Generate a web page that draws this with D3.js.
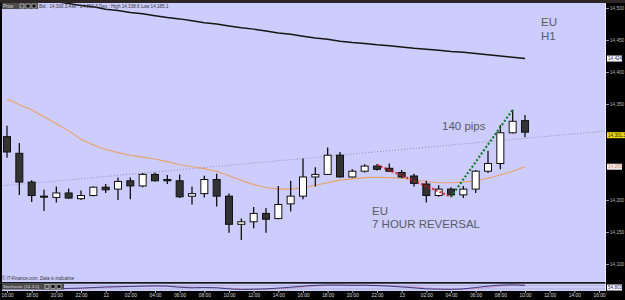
<!DOCTYPE html>
<html>
<head>
<meta charset="utf-8">
<script src="https://cdn.jsdelivr.net/npm/d3@7"></script>
<style>
body { margin: 0; background: #000; }
svg { display: block; font-family: "Liberation Sans", Arial, sans-serif; }
</style>
</head>
<body>
<script>
// EU H1 candles, 16:00 day 11 .. 10:00 day 13
var hours = d3.range(43);
var open  = [14299,14273,14228,14206,14204,14211,14202,14207,14220,14217,14230,14222,14240,14232,14230,14206,14210,14232,14206,14162,14166,14179,14171,14194,14206,14236,14240,14270,14236,14245,14253,14249.5,14243,14237.5,14225,14207,14217,14208,14217,14245,14257,14305,14324];
var high  = [14316,14289,14231,14216,14221,14218,14215,14221,14225,14235,14235,14242,14243,14239,14240,14221,14238,14241,14210,14171,14189,14187.5,14222,14230,14265,14251,14282,14275,14248,14256,14256,14257,14247,14241,14230,14223,14220,14222,14247,14277,14317,14341,14333];
var low   = [14266,14208,14197,14183,14196,14202,14200,14206,14211,14200,14201,14220,14229,14225,14203,14193,14204,14190,14149,14137.5,14156,14149,14170,14182,14201,14221,14239,14235,14235,14243,14246,14244,14234,14221,14196,14205,14205,14203,14211,14242,14248,14304,14298];
var close = [14275,14228,14207,14205,14211,14203,14207,14220,14216,14229,14222,14240,14230,14230,14205,14210,14232,14206,14162,14166,14179,14170,14193,14206,14236,14240,14270,14236,14245,14253,14248,14245,14236,14226,14207,14217,14208,14217,14245,14257,14305,14323,14306];

// moving averages
var maFast = [14358,14349,14341,14330,14319,14308,14295,14286,14279,14274,14270,14267,14264,14260,14255,14252,14249,14245,14238,14230.5,14224,14219.5,14217,14217,14219,14223,14227,14231,14233,14235,14235.5,14235,14234,14232,14229,14227,14227,14228,14230,14234,14239,14245,14252];
var maSlow = [14520,14518,14515,14512.5,14510,14507,14504,14502,14498,14496,14493,14491,14488,14485,14483,14480,14477,14475,14472,14469,14467,14464,14461,14459,14456,14453,14451,14448,14446,14444.5,14442.5,14441,14439,14437,14435.5,14434,14432,14431,14429,14427,14425,14423,14421];

// stochastic (14-3-5)
var stochK = [60,40,25,20,25,30,35,45,55,60,65,70,75,70,50,40,45,40,20,10,15,20,35,50,70,85,92,90,85,88,80,70,55,40,20,15,12,20,45,70,90,95,85];
var stochD = [55,50,40,28,23,25,30,37,45,53,60,65,70,72,65,53,45,42,35,23,15,15,23,35,52,68,82,89,89,88,84,79,68,55,38,25,16,16,26,45,68,85,90];

// drawn lines
var trendLine = [[-1, 14221], [49, 14308.6]];
var redLeg    = [[30, 14255], [36, 14205]];
var greenLeg  = [[36, 14205], [41, 14341]];

// axis ticks (14,250 and 14,300 sit under the price boxes)
var priceTicks = [14100,14150,14200,14350,14400,14450,14500];
var tickHours  = d3.range(0, 49, 2);
var tickLabels = ["16:00","18:00","20:00","22:00","12","02:00","04:00","06:00","08:00","10:00","12:00","14:00",
                  "16:00","18:00","20:00","22:00","13","02:00","04:00","06:00","08:00","10:00","12:00","14:00","16:00"];

var width = 625,
    height = 300;

var svg = d3.select("body").append("svg")
    .attr("width", width)
    .attr("height", height);

var x = d3.scaleLinear().domain([0, 48]).range([7, 599]);
var y = d3.scaleLinear().domain([14100, 14500]).range([264, 8]);
var yS = d3.scaleLinear().domain([0, 100]).range([290, 284.5]);

/* frame */
svg.append("rect").attr("width", width).attr("height", height).attr("fill", "#000");
svg.append("rect").attr("width", width).attr("height", 3).attr("fill", "#2e2624");
svg.append("rect").attr("x", 2).attr("y", 3).attr("width", 603).attr("height", 279).attr("fill", "#ccccfd");
svg.append("line").attr("x1", 605.5).attr("x2", 605.5).attr("y1", 3).attr("y2", 291)
    .attr("stroke", "#eeeeff").attr("stroke-width", 1);

svg.append("clipPath").attr("id", "plot")
  .append("rect").attr("x", 2).attr("y", 3).attr("width", 603).attr("height", 279);

var plot = svg.append("g").attr("clip-path", "url(#plot)");

// grey dotted trend line
plot.append("path")
    .attr("d", d3.line().x(function(d){ return x(d[0]) }).y(function(d){ return y(d[1]) })(trendLine))
    .attr("fill", "none").attr("stroke", "#8a8aa0").attr("stroke-width", 0.9)
    .attr("stroke-dasharray", "1,2");

// moving averages
var maLine = d3.line().x(function(d, i){ return x(i) }).y(function(d){ return y(d) });
plot.append("path").attr("d", maLine(maSlow))
    .attr("fill", "none").attr("stroke", "#161616").attr("stroke-width", 1.5);
plot.append("path").attr("d", maLine(maFast))
    .attr("fill", "none").attr("stroke", "#eba268").attr("stroke-width", 1.1);

/* candles */
var candle = plot.selectAll("g.candle")
    .data(hours)
  .enter().append("g")
    .attr("class", "candle");

candle.append("line")
    .attr("x1", function(d){ return x(d) })
    .attr("x2", function(d){ return x(d) })
    .attr("y1", function(d){ return y(high[d]) })
    .attr("y2", function(d){ return y(low[d]) })
    .attr("stroke", "#111").attr("stroke-width", 1.3);

candle.append("rect")
    .attr("x", function(d){ return x(d) - 3.5 })
    .attr("width", 7)
    .attr("y", function(d){ return y(Math.max(open[d], close[d])) })
    .attr("height", function(d){ return Math.max(1, Math.abs(y(open[d]) - y(close[d]))) })
    .attr("fill", function(d){ return close[d] > open[d] ? "#fff" : "#333" })
    .attr("stroke", "#111").attr("stroke-width", 1);

// reversal legs
var legLine = d3.line().x(function(d){ return x(d[0]) }).y(function(d){ return y(d[1]) });
plot.append("path").attr("d", legLine(redLeg))
    .attr("fill", "none").attr("stroke", "#d01818").attr("stroke-width", 2.2)
    .attr("stroke-dasharray", "2,2").attr("opacity", 0.85);
plot.append("path").attr("d", legLine(greenLeg))
    .attr("fill", "none").attr("stroke", "#0f7a2a").attr("stroke-width", 2.2)
    .attr("stroke-dasharray", "2,2");

/* annotations */
var note = svg.append("g").attr("fill", "#595d66").style("font-size", "11.5px");
note.append("text").attr("x", 541).attr("y", 25.5).text("EU");
note.append("text").attr("x", 541).attr("y", 39.5).text("H1");
note.append("text").attr("x", 442).attr("y", 130).text("140 pips");
note.append("text").attr("x", 372).attr("y", 215).text("EU");
note.append("text").attr("x", 372).attr("y", 227.5).text("7 HOUR REVERSAL");

/* header */
svg.append("rect").attr("x", 2).attr("y", 3).attr("width", 36).attr("height", 6).attr("fill", "#4c4c4c");
svg.append("text").attr("x", 3).attr("y", 8).attr("fill", "#ddd").style("font-size", "4.5px").text("Price");
[20, 26, 32].forEach(function(ix, k){
    svg.append("rect").attr("x", ix).attr("y", 4).attr("width", 4).attr("height", 4)
        .attr("fill", k == 0 ? "none" : "#111").attr("stroke", "#ddd").attr("stroke-width", 0.6);
});
svg.append("text").attr("x", 39).attr("y", 8).attr("fill", "#333").style("font-size", "4.6px")
    .text("Bid : 14,300.3 Ask : 14,302.3  Dev : High 14,338.6 Low 14,185.1");
svg.append("text").attr("x", 2).attr("y", 280).attr("fill", "#333").style("font-size", "4.5px")
    .style("font-style", "italic").text("© IT-Finance.com. Data is indicative");

/* stochastic panel */
svg.append("rect").attr("x", 2).attr("y", 283.5).attr("width", 603).attr("height", 7.5).attr("fill", "#ccccfd");
svg.append("line").attr("x1", 0).attr("x2", 606).attr("y1", 283).attr("y2", 283).attr("stroke", "#333").attr("stroke-width", 1);
[20, 80].forEach(function(lv){
    svg.append("line").attr("x1", 2).attr("x2", 605).attr("y1", yS(lv)).attr("y2", yS(lv))
        .attr("stroke", "#9999bb").attr("stroke-width", 0.5);
});
var stLine = d3.line().x(function(d, i){ return x(i) }).y(function(d){ return yS(d) });
svg.append("path").attr("d", stLine(stochD)).attr("fill", "none").attr("stroke", "#d06080")
    .attr("stroke-width", 0.8).attr("stroke-dasharray", "1,1");
svg.append("path").attr("d", stLine(stochK)).attr("fill", "none").attr("stroke", "#1a1a60")
    .attr("stroke-width", 0.8);
svg.append("rect").attr("x", 2).attr("y", 283.5).attr("width", 62).attr("height", 6).attr("fill", "#4c4c4c");
svg.append("text").attr("x", 3).attr("y", 288.3).attr("fill", "#ddd").style("font-size", "4.3px").text("Stochastic (14-3-5)");
[45, 51, 57].forEach(function(ix, k){
    svg.append("rect").attr("x", ix).attr("y", 284.5).attr("width", 4).attr("height", 4)
        .attr("fill", k == 0 ? "none" : "#111").attr("stroke", "#ddd").attr("stroke-width", 0.6);
});

/* axes */
var yAxis = svg.append("g")
    .attr("transform", "translate(606,0)")
    .call(d3.axisRight(y).tickValues(priceTicks).tickFormat(d3.format(",")).tickSize(3).tickPadding(1));
yAxis.select(".domain").remove();
yAxis.selectAll("line").attr("stroke", "#999");
yAxis.selectAll("text").attr("fill", "#bbb").style("font-size", "4.6px").style("font-family", "inherit");

var xAxis = svg.append("g")
    .attr("transform", "translate(0,291)")
    .call(d3.axisBottom(x).tickValues(tickHours).tickFormat(function(d, i){ return tickLabels[i] }).tickSize(2).tickPadding(1));
xAxis.select(".domain").remove();
xAxis.selectAll("line").attr("stroke", "#aaa");
xAxis.selectAll("text").attr("fill", "#ddd").style("font-size", "4.8px").style("font-family", "inherit");

/* price boxes on the right axis */
function priceBox(v, label, bg, fg, w) {
    var g = svg.append("g").attr("transform", "translate(606," + y(v) + ")");
    g.append("rect").attr("x", 1).attr("y", -3).attr("width", w).attr("height", 6).attr("fill", bg);
    g.append("text").attr("x", 2).attr("y", 1.7).attr("fill", fg).style("font-size", "4.6px").text(label);
}
priceBox(maSlow[maSlow.length - 1], "14,424", "#ffffff", "#1a1a70", 15);
priceBox(maFast[maFast.length - 1], "14,285", "#f6eeee", "#d09070", 15);
priceBox(14301.3, "14,301.3", "#f2de10", "#111", 18);

var sg = svg.append("g").attr("transform", "translate(606," + yS(45) + ")");
sg.append("rect").attr("x", 1).attr("y", -3).attr("width", 15).attr("height", 6).attr("fill", "#fff");
sg.append("text").attr("x", 2).attr("y", 1.7).attr("fill", "#1a1a70").style("font-size", "4.6px").text("54.803");
</script>
</body>
</html>
